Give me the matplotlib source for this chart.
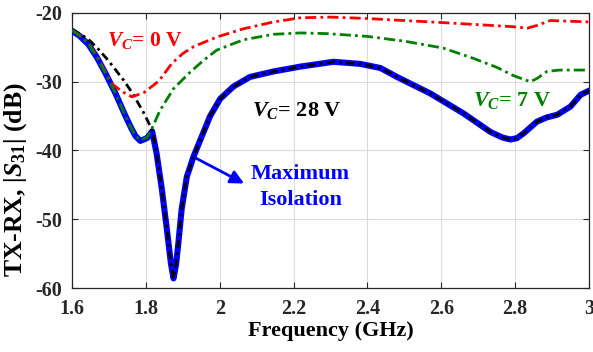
import matplotlib
matplotlib.use("Agg")
import matplotlib.pyplot as plt

# Curvas de aislamiento TX-RX |S31| frente a la frecuencia
plt.rcParams['font.family'] = ['Liberation Serif', 'DejaVu Serif']
plt.rcParams['font.weight'] = 'bold'
plt.rcParams['axes.unicode_minus'] = False
plt.rcParams['mathtext.fontset'] = 'custom'
plt.rcParams['mathtext.rm'] = 'Liberation Serif:bold'
plt.rcParams['mathtext.it'] = 'Liberation Serif:italic:bold'
plt.rcParams['mathtext.bf'] = 'Liberation Serif:bold'

# Máximo aislamiento (curva azul gruesa)
f_iso = [1.600, 1.620, 1.645, 1.668, 1.690, 1.717, 1.745, 1.760, 1.772, 1.785,
         1.803, 1.817, 1.829, 1.843, 1.857, 1.868, 1.875, 1.882, 1.888, 1.897,
         1.911, 1.929, 1.951, 1.974, 2.001, 2.037, 2.082, 2.146, 2.218, 2.308,
         2.380, 2.435, 2.480, 2.570, 2.660, 2.733, 2.765, 2.787, 2.805, 2.823,
         2.859, 2.885, 2.914, 2.950, 2.977, 3.000]
s_iso = [-22.6, -23.3, -24.6, -26.5, -28.7, -31.6, -35.0, -36.7, -37.9, -38.6,
         -38.2, -37.2, -40.4, -45.5, -51.5, -56.5, -58.6, -56.5, -53.5, -48.5,
         -43.8, -40.9, -38.0, -35.0, -32.5, -30.7, -29.3, -28.5, -27.8, -27.1,
         -27.4, -28.0, -29.3, -31.7, -34.6, -37.3, -38.1, -38.4, -38.2, -37.5,
         -35.8, -35.2, -34.8, -33.6, -31.9, -31.3]

# VC = 28 V: tramo inicial propio, luego coincide con la curva azul
f_28_ini = [1.600, 1.627, 1.650, 1.672, 1.695, 1.717, 1.740, 1.763, 1.794, 1.817]
s_28_ini = [-22.4, -23.2, -24.1, -25.3, -26.7, -28.2, -29.8, -31.6, -34.5, -37.0]
f_28 = f_28_ini + f_iso[12:]
s_28 = s_28_ini + s_iso[12:]

# VC = 0 V
f_0 = [1.600, 1.620, 1.645, 1.668, 1.690, 1.708, 1.735, 1.762, 1.794, 1.835,
       1.871, 1.900, 1.929, 1.992, 2.064, 2.146, 2.218, 2.300, 2.399, 2.500,
       2.605, 2.700, 2.795, 2.833, 2.860, 2.895, 3.000]
s_0 = [-22.5, -23.2, -24.4, -26.3, -28.5, -30.3, -31.4, -32.2, -31.6, -29.9,
       -27.3, -25.9, -24.9, -23.5, -22.3, -21.3, -20.7, -20.6, -20.8, -21.1,
       -21.4, -21.7, -22.0, -22.2, -21.8, -21.1, -21.3]

# VC = 7 V
f_7 = [1.600, 1.620, 1.645, 1.668, 1.690, 1.717, 1.745, 1.760, 1.772, 1.785,
       1.803, 1.814, 1.838, 1.875, 1.920, 1.956, 1.992, 2.064, 2.145, 2.218,
       2.290, 2.399, 2.500, 2.605, 2.687, 2.750, 2.795, 2.841, 2.860, 2.886,
       2.920, 3.000]
s_7 = [-22.5, -23.3, -24.5, -26.5, -28.7, -31.6, -35.0, -36.7, -37.9, -38.5,
       -38.1, -37.1, -34.2, -31.0, -28.6, -26.9, -25.4, -23.9, -23.1, -22.9,
       -23.0, -23.4, -24.1, -25.1, -26.6, -27.9, -29.1, -30.0, -29.5, -28.5,
       -28.3, -28.3]

x_ticks = [1.6, 1.8, 2.0, 2.2, 2.4, 2.6, 2.8, 3.0]
x_labels = ['1.6', '1.8', '2', '2.2', '2.4', '2.6', '2.8', '3']
y_ticks = [-60, -50, -40, -30, -20]

fig = plt.figure(figsize=(5.93, 3.52), dpi=100)
ax = fig.add_axes([0.1214, 0.1818, 0.8719, 0.7813])

ax.plot(f_iso, s_iso, color='#0000FF', lw=4.4, solid_capstyle='round',
        solid_joinstyle='round', zorder=3)
ax.plot(f_28, s_28, color='black', lw=2.0, linestyle=(0, (3, 1.5, 1, 1.5)), zorder=4)
ax.plot(f_0, s_0, color='#FF0000', lw=2.0, linestyle=(0, (4, 1.5, 1, 1.5)), zorder=5)
ax.plot(f_7, s_7, color='#008000', lw=2.0, linestyle=(0, (4, 1.5, 1, 1.5)), zorder=5)

ax.set_xlim(1.6, 3.0)
ax.set_ylim(-60, -20)
ax.set_xticks(x_ticks)
ax.set_xticklabels(x_labels)
ax.set_yticks(y_ticks)
ax.grid(True, color='#dcdcdc', lw=0.8)
ax.set_axisbelow(True)
ax.tick_params(direction='in', top=True, right=True, length=4, width=0.8,
               labelsize=14.5, colors='#262626')
ax.tick_params(axis='x', pad=8)
ax.tick_params(axis='y', pad=7)
for lab in ax.get_xticklabels() + ax.get_yticklabels():
    lab.set_fontweight('bold')
for sp in ax.spines.values():
    sp.set_color('#262626')
    sp.set_linewidth(0.9)

ax.set_xlabel('Frequency (GHz)', fontsize=16, fontweight='bold', labelpad=1)
ax.set_ylabel(r'TX-RX, |$S_{31}$| (dB)', fontsize=18.5, fontweight='bold')
ax.yaxis.set_label_coords(-0.083, 0.395)

# Etiquetas de cada curva
ax.text(1.695, -24.0, r'$V_C$= 0 V', color='#FF0000', fontsize=15.5,
        fontweight='bold', ha='left', va='center')
ax.text(2.088, -34.2, r'$V_C$= 28 V', color='black', fontsize=16,
        fontweight='bold', ha='left', va='center')
ax.text(2.687, -32.8, r'$V_C$= 7 V', color='#008000', fontsize=16,
        fontweight='bold', ha='left', va='center')
ax.text(2.218, -45.3, 'Maximum\nIsolation', color='#0000FF', fontsize=16,
        fontweight='bold', ha='center', va='center', linespacing=1.35)
ax.annotate('', xy=(2.066, -44.8), xytext=(1.928, -40.9),
            arrowprops=dict(arrowstyle='-|>', color='#0000FF', lw=2,
                            mutation_scale=20, shrinkA=0, shrinkB=0))

fig.savefig('out.png', dpi=100)
